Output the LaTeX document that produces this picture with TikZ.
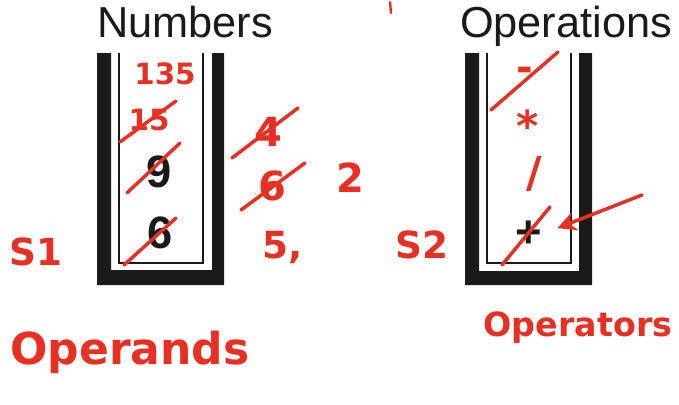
\documentclass[tikz,border=0pt]{standalone}
\usepackage{fontspec}
\setmainfont{Liberation Sans}
\newfontfamily\handfont{DejaVu Sans}
\usetikzlibrary{arrows.meta}
\definecolor{ink}{RGB}{26,26,24}
\definecolor{pen}{RGB}{232,48,34}
\tikzset{
  title/.style={anchor=base,text=ink,inner sep=0pt,font=\fontsize{32.5}{34}\selectfont},
  item/.style={text=ink,inner sep=0pt,font=\fontsize{34}{35}\selectfont\bfseries},
  bar/.style={fill=ink,draw=none},
  thin/.style={draw=ink,line width=0.9pt},
  hand/.style={text=pen,inner sep=0pt,font=\handfont\fontsize{#1}{#1}\selectfont\bfseries},
  hand/.default=24,
  strike/.style={draw=pen,line width=2.6pt,line cap=round},
}
\begin{document}
\begin{tikzpicture}[x=0.75pt,y=-0.75pt]
\useasboundingbox (0,0) rectangle (679,404);
% Numbers stack
\path[bar] (97,53) -- (97,285) -- (224,285) -- (224,53) -- (212,53) -- (212,270) -- (111,270) -- (111,53) -- cycle;
\draw[thin] (119,53) -- (119,263) -- (203,263) -- (203,53);
\node[title] (numtitle) at (185,37) {Numbers};
\node[item] (nine) at (159,172) {9};
\node[item] (six) at (160,233) {6};
% Operations stack
\path[bar] (465,53) -- (465,285) -- (592,285) -- (592,53) -- (579,53) -- (579,271) -- (479,271) -- (479,53) -- cycle;
\draw[thin] (487,53) -- (487,263) -- (571,263) -- (571,53);
\node[title] (optitle) at (566,37) {Operations};
\node[item] (plus) at (529,234) {+};
% handwritten annotations
\node[hand=22] (n135) at (165,74) {135};
\node[hand=22] (n15) at (149,120) {15};
\draw[strike] (120,142) -- (176,101);
\draw[strike] (127,193) -- (180,143);
\draw[strike] (124,265) -- (176,218);
\node[hand=30] (n4) at (268,132) {4};
\draw[strike] (232,158) -- (298,108);
\node[hand=30] (n6) at (272,186) {6};
\draw[strike] (241,210) -- (305,163);
\node[hand=30] (n2) at (350,178) {2};
\node[hand=28] (n5) at (283,248) {5,};
\node[hand=28] (s1) at (36,252) {S1};
\node[hand=28] (s2) at (422,245) {S2};
\node[hand=30] (minus) at (525,74) {-};
\draw[strike] (491,110) -- (558,52);
\node[hand=32] (star) at (528,126) {*};
\node[hand=32] (slash) at (534,174) {/};
\draw[strike] (502,265) -- (550,207);
\coordinate (arrowstart) at (642,195);
\draw[strike,shorten >=12pt,-{Stealth[length=14pt,width=14pt]}] (arrowstart) -- (plus.east) ;
\node[hand=33] (operands) at (130,352) {Operands};
\node[hand=25] (operators) at (578,328) {Operators};
\draw[strike,line width=1.8pt] (390,2) -- (391,13);
\end{tikzpicture}
\end{document}
